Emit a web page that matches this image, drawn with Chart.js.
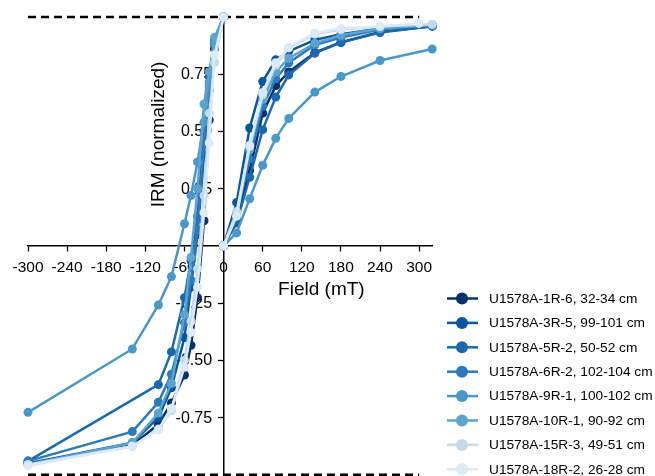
<!DOCTYPE html>
<html><head><meta charset="utf-8">
<script src="https://cdn.jsdelivr.net/npm/chart.js@4.4.0/dist/chart.umd.min.js"></script>
<style>html,body{margin:0;padding:0;background:#fff;overflow:hidden}</style>
</head><body>
<canvas id="c" width="655" height="476"></canvas>
<script>
// ---- data ----
const sampleNames = [
  'U1578A-1R-6, 32-34 cm','U1578A-3R-5, 99-101 cm','U1578A-5R-2, 50-52 cm','U1578A-6R-2, 102-104 cm',
  'U1578A-9R-1, 100-102 cm','U1578A-10R-1, 90-92 cm','U1578A-15R-3, 49-51 cm','U1578A-18R-2, 26-28 cm'];
const sampleColors = ['#08306b','#0b559f','#1a68ae','#2b7bba','#4a98c9','#5ca4d0','#c3d9ee','#dce9f6'];

const acqFields  = [0, 20, 40, 60, 80, 100, 140, 180, 240, 320];
const acqFields2 = [0, 20, 40, 60, 80, 100, 140, 180, 240, 300];
const backFields = [0, -14, -22, -30, -40, -50, -60, -80, -100, -140, -300];

const acq1R6  = [0, 0.12, 0.33, 0.58, 0.70, 0.76, 0.845, 0.89, 0.935, 0.96];
const acq3R5  = [0, 0.19, 0.515, 0.718, 0.813, 0.85, 0.90, 0.925, 0.95, 0.965];
const acq5R2  = [0, 0.10, 0.30, 0.508, 0.65, 0.747, 0.842, 0.888, 0.932, 0.96];
const acq6R2  = [0, 0.13, 0.38, 0.61, 0.73, 0.80, 0.878, 0.91, 0.945, 0.965];
const acq9R1  = [0, 0.057, 0.206, 0.352, 0.47, 0.557, 0.672, 0.74, 0.81, 0.86];
const acq10R1 = [0, 0.14, 0.42, 0.64, 0.76, 0.82, 0.885, 0.92, 0.95, 0.965];
const acq15R3 = [0, 0.15, 0.44, 0.66, 0.79, 0.865, 0.925, 0.945, 0.958, 0.968];
const acq18R2 = [0, 0.13, 0.435, 0.67, 0.80, 0.868, 0.93, 0.95, 0.96, 0.972];

const back1R6  = [1, 0.86, 0.55, 0.11, -0.226, -0.434, -0.564, -0.686, -0.78, -0.87, -0.95];
const back3R5  = [1, 0.88, 0.68, 0.40, 0.05, -0.18, -0.40, -0.62, -0.75, -0.86, -0.95];
const back5R2  = [1, 0.90, 0.74, 0.50, 0.13, -0.066, -0.226, -0.463, -0.606, null, -0.94];
const back6R2  = [1, 0.89, 0.70, 0.45, 0.07, -0.15, -0.335, -0.56, -0.683, -0.811, -0.94];
const back9R1  = [1, 0.885, 0.715, 0.54, 0.367, 0.22, 0.097, -0.134, -0.258, -0.45, -0.727];
const back10R1 = [1, 0.91, 0.76, 0.62, 0.25, -0.05, -0.30, -0.60, -0.73, -0.86, -0.955];
const back15R3 = [1, 0.80, 0.58, 0.22, -0.10, -0.33, -0.50, -0.72, -0.80, -0.875, -0.955];
const back18R2 = [1, 0.834, 0.45, 0.145, -0.18, -0.377, -0.53, -0.709, -0.803, -0.875, -0.96];

const acqSets  = [acq1R6, acq3R5, acq5R2, acq6R2, acq9R1, acq10R1, acq15R3, acq18R2];
const acqXSets = [acqFields, acqFields, acqFields, acqFields, acqFields, acqFields, acqFields, acqFields2];
const backSets = [back1R6, back3R5, back5R2, back6R2, back9R1, back10R1, back15R3, back18R2];

const xTickValues = [-300, -240, -180, -120, -60, 0, 60, 120, 180, 240, 300];
const yTickValues = [-0.75, -0.5, -0.25, 0.25, 0.5, 0.75];
const refX = [-300, 300];
const refLevels = [1, -1];

// ---- build datasets ----
const FONT = "'Liberation Sans', Arial, Helvetica, sans-serif";
const datasets = [];
refLevels.forEach(lv => {
  datasets.push({
    type: 'line', label: '_ref', data: refX.map(x => ({x, y: lv})),
    borderColor: '#000', borderWidth: 2.5, borderDash: [8, 5], pointRadius: 0,
    clip: false, order: 100, isRef: true
  });
});
sampleNames.forEach((name, i) => {
  const pts = [];
  acqSets[i].forEach((v, j) => pts.push({x: acqXSets[i][j], y: v}));
  pts.push({x: 0, y: null}); // gap between acquisition and backfield
  backSets[i].forEach((v, j) => { if (v !== null) pts.push({x: backFields[j], y: v}); });
  datasets.push({
    type: 'line', label: name, data: pts,
    borderColor: sampleColors[i], backgroundColor: sampleColors[i],
    pointBackgroundColor: sampleColors[i], pointBorderColor: sampleColors[i],
    borderWidth: 2.5, pointRadius: 4.5, pointBorderWidth: 0,
    spanGaps: false, clip: false, order: -i, tension: 0
  });
});

const zeroPad = s => { s.paddingLeft = 0; s.paddingRight = 0; s.paddingTop = 0; s.paddingBottom = 0; };

const decorPlugin = {
  id: 'decor',
  beforeDatasetsDraw(chart) {
    // y tick labels, left of the centred y axis
    const ctx = chart.ctx, xs = chart.scales.x, ys = chart.scales.y;
    ctx.save();
    ctx.fillStyle = '#000';
    ctx.font = '16px ' + FONT;
    ctx.textAlign = 'right'; ctx.textBaseline = 'middle';
    const xr = xs.getPixelForValue(0) - 11.5;
    yTickValues.forEach(v => ctx.fillText(v.toFixed(2), xr, ys.getPixelForValue(v) + 0.5));
    ctx.restore();
  },
  afterDraw(chart) {
    const ctx = chart.ctx, xs = chart.scales.x, ys = chart.scales.y;
    ctx.save();
    ctx.fillStyle = '#000';
    ctx.font = '19px ' + FONT;
    ctx.textAlign = 'center'; ctx.textBaseline = 'middle';
    ctx.fillText('Field (mT)', xs.getPixelForValue(150), ys.getPixelForValue(0) + 44);
    ctx.translate(xs.getPixelForValue(0) - 65, ys.getPixelForValue(0.5) + 3);
    ctx.rotate(-Math.PI / 2);
    ctx.fillText('IRM (normalized)', 0, 0);
    ctx.restore();

    // legend
    ctx.save();
    const x0 = 447, x1 = 478, xm = 462, tx = 489, y0 = 298.5, dy = 24.4;
    ctx.font = '13.7px ' + FONT;
    ctx.textAlign = 'left'; ctx.textBaseline = 'middle';
    chart.data.datasets.filter(d => !d.isRef).forEach((d, k) => {
      const y = y0 + k * dy;
      ctx.strokeStyle = d.borderColor; ctx.lineWidth = 2.5;
      ctx.beginPath(); ctx.moveTo(x0, y); ctx.lineTo(x1, y); ctx.stroke();
      ctx.fillStyle = d.borderColor;
      ctx.beginPath(); ctx.arc(xm, y, 6, 0, Math.PI * 2); ctx.fill();
      ctx.fillStyle = '#000';
      ctx.fillText(d.label, tx, y + 0.5);
    });
    ctx.restore();
  }
};

new Chart(document.getElementById('c'), {
  data: { datasets },
  options: {
    responsive: false, animation: false, devicePixelRatio: 1, events: [],
    layout: { autoPadding: false, padding: { left: 28, top: 17, right: 222.8, bottom: 0 } },
    plugins: { legend: { display: false }, tooltip: { enabled: false } },
    scales: {
      x: {
        type: 'linear', position: { y: 0 }, min: -300, max: 320,
        afterBuildTicks: s => { s.ticks = xTickValues.map(v => ({ value: v })); },
        afterFit: zeroPad,
        ticks: { font: { size: 15.5, family: FONT }, color: '#000', padding: 7, autoSkip: false, maxRotation: 0,
                 callback: v => String(v) },
        grid: { drawOnChartArea: false, drawTicks: true, tickLength: 5, color: '#000', tickWidth: 1.3 },
        border: { display: true, color: '#000', width: 1.5 }
      },
      y: {
        type: 'linear', position: { x: 0 }, min: -1.005, max: 1,
        afterBuildTicks: s => { s.ticks = yTickValues.map(v => ({ value: v })); },
        afterFit: zeroPad,
        ticks: { display: false, autoSkip: false },
        grid: { drawOnChartArea: false, drawTicks: true, tickLength: 5, color: '#000', tickWidth: 1.3 },
        border: { display: true, color: '#000', width: 1.5 }
      }
    }
  },
  plugins: [decorPlugin]
});
</script>
</body></html>
